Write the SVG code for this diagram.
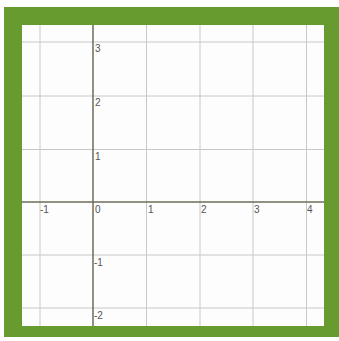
<svg xmlns="http://www.w3.org/2000/svg" width="339" height="341" viewBox="0 0 339 341">
<style>
.grid{stroke:#c8c8c8;stroke-width:1}
.axis{stroke:#6b6b5a;stroke-width:1.5}
text{font-family:"Liberation Sans",Arial,sans-serif;font-size:10px;fill:#555}
</style>
<rect x="4" y="7" width="335" height="330" fill="#679a2f"/>
<rect x="22" y="25" width="302" height="301" fill="#fdfdfd"/>
<g id="grid">
<line class="grid" x1="40" y1="25" x2="40" y2="326"/>
<line class="grid" x1="146.5" y1="25" x2="146.5" y2="326"/>
<line class="grid" x1="200" y1="25" x2="200" y2="326"/>
<line class="grid" x1="253" y1="25" x2="253" y2="326"/>
<line class="grid" x1="306.5" y1="25" x2="306.5" y2="326"/>
<line class="grid" x1="22" y1="42" x2="324" y2="42"/>
<line class="grid" x1="22" y1="96" x2="324" y2="96"/>
<line class="grid" x1="22" y1="149.5" x2="324" y2="149.5"/>
<line class="grid" x1="22" y1="255" x2="324" y2="255"/>
<line class="grid" x1="22" y1="308" x2="324" y2="308"/>
</g>
<g id="axes">
<line class="axis" x1="93" y1="25" x2="93" y2="326"/>
<line class="axis" x1="22" y1="202" x2="324" y2="202"/>
</g>
<g id="labels">
<text x="95" y="52">3</text>
<text x="95" y="106">2</text>
<text x="95" y="160">1</text>
<text x="40" y="213">-1</text>
<text x="95" y="213">0</text>
<text x="148" y="213">1</text>
<text x="201" y="213">2</text>
<text x="254" y="213">3</text>
<text x="307" y="213">4</text>
<text x="94" y="266">-1</text>
<text x="94" y="319">-2</text>
</g>
</svg>
